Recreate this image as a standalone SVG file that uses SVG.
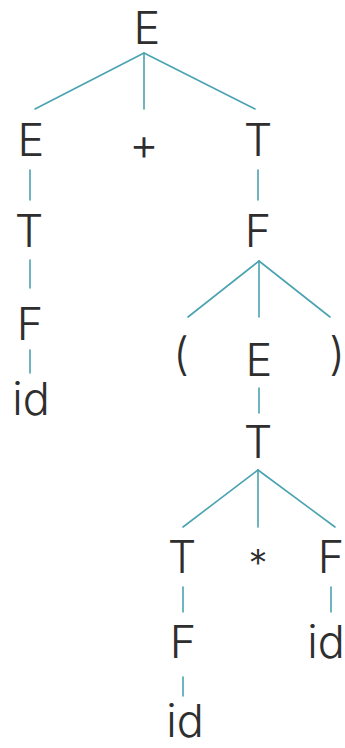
<svg xmlns="http://www.w3.org/2000/svg" width="345" height="748" viewBox="0 0 345 748">
<style>
text{font-family:Inter,"Liberation Sans",Arial,sans-serif;font-weight:300;font-size:45px;fill:#2e2e2e;text-anchor:middle}
.c line{stroke:#4aa3b1;stroke-width:1.6;stroke-linecap:round}
</style>
<rect width="345" height="748" fill="#fff"/>
<g class="c" id="connectors">
<line x1="144" y1="53" x2="35" y2="109"/>
<line x1="144" y1="53" x2="144" y2="109"/>
<line x1="144" y1="53" x2="255" y2="109"/>
<line x1="30" y1="170" x2="30" y2="200"/>
<line x1="30" y1="260" x2="30" y2="288"/>
<line x1="30" y1="350" x2="30" y2="373"/>
<line x1="258" y1="170" x2="258" y2="200"/>
<line x1="259" y1="261" x2="188" y2="317"/>
<line x1="259" y1="261" x2="259" y2="317"/>
<line x1="259" y1="261" x2="330" y2="317"/>
<line x1="259" y1="388" x2="259" y2="413"/>
<line x1="258" y1="470" x2="183" y2="527"/>
<line x1="258" y1="470" x2="258" y2="527"/>
<line x1="258" y1="470" x2="335" y2="527"/>
<line x1="183" y1="587" x2="183" y2="612"/>
<line x1="183" y1="677" x2="183" y2="696"/>
<line x1="331" y1="587" x2="331" y2="612"/>
</g>
<g id="n-root"><text x="147" y="44">E</text></g>
<g id="n-E1"><text x="31" y="156">E</text></g>
<g id="n-plus"><text x="144" y="160">+</text></g>
<g id="n-T1"><text x="258" y="156">T</text></g>
<g id="n-T2"><text x="29" y="247">T</text></g>
<g id="n-F1"><text x="30" y="340">F</text></g>
<g id="n-id1"><text x="31" y="415">id</text></g>
<g id="n-F2"><text x="258" y="247">F</text></g>
<g id="n-lp"><text x="181" y="370">(</text></g>
<g id="n-E2"><text x="259" y="376">E</text></g>
<g id="n-rp"><text x="337" y="370">)</text></g>
<g id="n-T3"><text x="258" y="458">T</text></g>
<g id="n-T4"><text x="182" y="573">T</text></g>
<g id="n-star"><text x="258" y="577" style="font-size:38px">*</text></g>
<g id="n-F3"><text x="331" y="573">F</text></g>
<g id="n-F4"><text x="183" y="658">F</text></g>
<g id="n-id2"><text x="326" y="658">id</text></g>
<g id="n-id3"><text x="185" y="737">id</text></g>
</svg>
